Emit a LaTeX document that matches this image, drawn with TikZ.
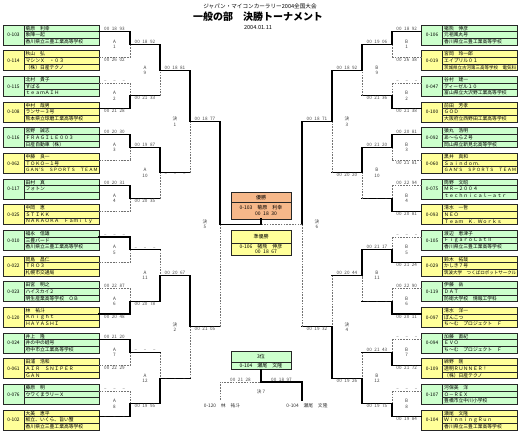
\documentclass[tikz,border=0pt]{standalone}
\usepackage{fontspec}
\usepackage{graphicx}
\setmainfont{Noto Sans CJK JP}
\definecolor{eg}{HTML}{CCFFCC}
\definecolor{ey}{HTML}{FFFF99}
\definecolor{eo}{HTML}{F6B88A}
\newsavebox\fitbox
\newcommand\fitw[1]{\sbox\fitbox{#1}\ifdim\wd\fitbox>72pt\resizebox{72pt}{!}{\usebox\fitbox}\else\usebox\fitbox\fi}
\newcommand\tmx[3]{#1\hspace{2.6pt}#2\hspace{2.6pt}#3}
\newcommand\nt{\makebox[21pt][s]{–\hfill–\hfill–}}
\newcounter{mc}
\tikzset{
  win/.style={line width=1.3pt, black, line cap=rect},
  lose/.style={line width=0.45pt, black!55, dash pattern=on 1.6pt off 1.2pt},
  boxline/.style={line width=0.9pt, black!85},
  rowline/.style={line width=0.5pt, black!85},
  tm/.style={font=\fontsize{4.6}{5}\selectfont, text=black!70, inner sep=0.6pt},
  mlab/.style={font=\fontsize{4.6}{5.4}\selectfont, text=black!75, align=center, inner sep=0},
  idtext/.style={font=\fontsize{4.8}{5}\selectfont, inner sep=0},
  nametext/.style={font=\fontsize{4.8}{5}\selectfont, inner sep=0, anchor=west},
  restext/.style={font=\fontsize{5}{5.5}\selectfont, inner sep=0},
}
% #1 x0, #2 k, #3 id, #4-#6 rows, #7 fill, #8 name prefix
\newcommand\entrybox[8]{%
  \pgfmathsetmacro\yc{35+25.667*#2}%
  \pgfmathsetmacro\yt{\yc-10}%
  \pgfmathsetmacro\ya{\yc-3.333}%
  \pgfmathsetmacro\yb{\yc+3.333}%
  \pgfmathsetmacro\yd{\yc+10}%
  \pgfmathsetmacro\xa{#1+21}%
  \pgfmathsetmacro\xb{#1+96}%
  \pgfmathsetmacro\xi{#1+10.5}%
  \pgfmathsetmacro\xt{#1+22.5}%
  \fill[#7] (#1,\yt) rectangle (\xb,\yd);
  \draw[rowline] (\xa,\ya) -- (\xb,\ya) (\xa,\yb) -- (\xb,\yb) (\xa,\yt) -- (\xa,\yd);
  \draw[boxline] (#1,\yt) rectangle (\xb,\yd);
  \node[idtext] (#8id) at (\xi,\yc) {#3};
  \node[nametext] (#8a) at (\xt,{\yc-6.667}) {\fitw{#4}};
  \node[nametext] (#8b) at (\xt,\yc) {\fitw{#5}};
  \node[nametext] (#8c) at (\xt,{\yc+6.667}) {\fitw{#6}};
}
% #1 xprev #2 xcur #3 ytop #4 ybot #5 winner(0 top/1 bottom) #6 time top #7 time bottom #8 label #9 first round
\newcommand\mtch[9]{%
  \stepcounter{mc}%
  \edef\mn{m\arabic{mc}}%
  \pgfmathsetmacro\ym{(#3+#4)/2}%
  \pgfmathsetmacro\xm{(#1+#2)/2}%
  \coordinate (\mn a) at (#1,#3);
  \coordinate (\mn b) at (#2,#3);
  \coordinate (\mn c) at (#2,\ym);
  \coordinate (\mn d) at (#2,#4);
  \coordinate (\mn e) at (#1,#4);
  \ifnum#5=0 \tikzset{tsty/.style={win},bsty/.style={lose}}\else\tikzset{tsty/.style={lose},bsty/.style={win}}\fi
  \ifnum#9=1 \tikzset{htsty/.style={tsty},hbsty/.style={bsty}}\else\tikzset{htsty/.style={win},hbsty/.style={win}}\fi
  \ifnum#5=0
    \draw[hbsty] (\mn e) -- (\mn d); \draw[bsty] (\mn d) -- (\mn c);
    \draw[htsty] (\mn a) -- (\mn b); \draw[tsty] (\mn b) -- (\mn c);
  \else
    \draw[htsty] (\mn a) -- (\mn b); \draw[tsty] (\mn b) -- (\mn c);
    \draw[hbsty] (\mn e) -- (\mn d); \draw[bsty] (\mn d) -- (\mn c);
  \fi
  \node[tm, anchor=south] (\mn tt) at (\xm,#3) {#6};
  \node[tm, anchor=north] (\mn tb) at (\xm,#4) {#7};
  \node[mlab] (\mn lb) at (\xm,\ym) {#8};
}
\begin{document}
\begin{tikzpicture}[x=1pt,y=-1pt]
\useasboundingbox (0,0) rectangle (520,432);
\fill[white] (0,0) rectangle (520,432);

% title
\node[font=\fontsize{5.6}{6}\selectfont] (sub) at (260,6) {ジャパン・マイコンカーラリー2004全国大会};
\node[font=\fontsize{10}{11}\selectfont\bfseries] (ttl) at (258,16.5) {一般の部　決勝トーナメント};
\node[font=\fontsize{5.6}{6}\selectfont] (dt) at (258,27.5) {2004.01.11};

% left entries
\entrybox{3}{0}{0-103}{菊原　利幸}{象陣一起}{香川県立三豊工業高等学校}{eg}{L0}
\entrybox{3}{1}{0-114}{秋山　弘}{マシンＸ　・０３}{（株）日産テクノ}{ey}{L1}
\entrybox{3}{2}{0-115}{北村　貴子}{すばる}{ｔｅａｍＡＩＨ}{eg}{L2}
\entrybox{3}{3}{0-108}{中村　哉男}{ランサー３号}{熊本県立球磨工業高等学校}{ey}{L3}
\entrybox{3}{4}{0-116}{宮野　誠志}{ＦＲＡＧＩＬＥ００３}{日産自動車（株）}{eg}{L4}
\entrybox{3}{5}{0-062}{中藤　良一}{ＴＯＫＯ－１号}{ＧＡＮ’Ｓ　ＳＰＯＲＴＳ　ＴＥＡＭ}{ey}{L5}
\entrybox{3}{6}{0-117}{田村　真}{フォトン}{}{eg}{L6}
\entrybox{3}{7}{0-025}{中岡　恵}{ＳＴＩＫＫ}{ＮＡＫＡＯＫＡ　Ｆａｍｉｌｙ}{ey}{L7}
\entrybox{3}{8}{0-010}{福永　信雄}{三豊バード}{香川県立三豊工業高等学校}{eg}{L8}
\entrybox{3}{9}{0-022}{岡島　昌仁}{ＴＲＯ３}{札幌市交通局}{ey}{L9}
\entrybox{3}{10}{0-023}{田宮　明之}{ハイスカイ２}{明生産業高等学校　ＯＢ}{eg}{L10}
\entrybox{3}{11}{0-120}{林　祐斗}{Ｋｎｉｇｈｔ}{ＨＡＹＡＳＨＩ}{ey}{L11}
\entrybox{3}{12}{0-024}{井上　隆}{井の中の蛙号}{府中市立工業高等学校}{eg}{L12}
\entrybox{3}{13}{0-061}{田浦　浩和}{ＡＩＲ　ＳＮＩＰＥＲ}{ＧＡＮ}{ey}{L13}
\entrybox{3}{14}{0-076}{藤原　明}{ウワくまラリーＸ}{}{eg}{L14}
\entrybox{3}{15}{0-102}{大美　恵平}{板立、いくら、旨い蟹}{香川県立三豊工業高等学校}{ey}{L15}

% right entries
\entrybox{421.5}{0}{0-106}{猪熊　伸彦}{元祖風丸号}{香川県立三豊工業高等学校}{eg}{R0}
\entrybox{421.5}{1}{0-019}{宮岡　玲一郎}{エイプリル０１}{茨城県立古河第三高等学校　電気科}{ey}{R1}
\entrybox{421.5}{2}{0-047}{谷村　建一}{ディーゼル１０}{富山県立大沢野工業高等学校}{eg}{R2}
\entrybox{421.5}{3}{0-100}{前田　芳孝}{ＧＯＤ}{大阪府立西野田工業高等学校}{ey}{R3}
\entrybox{421.5}{4}{0-092}{猿丸　浩明}{あ～ららＺ号}{岡山県立新見北高等学校}{eg}{R4}
\entrybox{421.5}{5}{0-060}{黒井　真和}{Ｓａｉｎｄｏｍ．}{ＧＡＮ’Ｓ　ＳＰＯＲＴＳ　ＴＥＡＭ}{ey}{R5}
\entrybox{421.5}{6}{0-075}{筒野　文昭}{ＭＲ－２００４}{ｔｅｃｈｎｉｃａｌ－ａｔｒ}{eg}{R6}
\entrybox{421.5}{7}{0-093}{清水　一哲}{ＮＥＯ}{Ｔｅａｍ　Ｋ．Ｗｏｒｋｓ}{ey}{R7}
\entrybox{421.5}{8}{0-105}{渡辺　恵津子}{ＦｉｇａｒｏＣａｔⅡ}{香川県立三豊工業高等学校}{eg}{R8}
\entrybox{421.5}{9}{0-029}{鈴木　拓哉}{かしき７号}{筑波大学　つくばロボットサークル}{ey}{R9}
\entrybox{421.5}{10}{0-119}{伊藤　岳}{ＤＡＴ}{防衛大学校　情報工学科}{eg}{R10}
\entrybox{421.5}{11}{0-097}{清水　洋一}{ぽんこつ}{ち～む　プロジェクト　Ｆ}{ey}{R11}
\entrybox{421.5}{12}{0-094}{加藤　直紀}{ＥＶＯ}{ち～む　プロジェクト　Ｆ}{eg}{R12}
\entrybox{421.5}{13}{0-109}{綿野　剛}{透明ＲＵＮＮＥＲ！}{（株）日産テクノ}{ey}{R13}
\entrybox{421.5}{14}{0-107}{河保美　洋}{Ｏ－ＲＥＸ}{豊橋市立中川小学校}{eg}{R14}
\entrybox{421.5}{15}{0-104}{瀬尾　文隆}{ＷｉｎｎｉｎｇＲｕｎ}{香川県立三豊工業高等学校}{ey}{R15}

% left bracket, round 1
\mtch{99}{130}{31.67}{57.33}{0}{\tmx{00}{18}{93}}{\tmx{00}{26}{02}}{A\\1}{1}
\mtch{99}{130}{83.00}{108.67}{1}{\nt}{\tmx{00}{21}{28}}{A\\2}{1}
\mtch{99}{130}{134.33}{160.00}{0}{\tmx{00}{20}{30}}{\nt}{A\\3}{1}
\mtch{99}{130}{185.67}{211.33}{0}{\tmx{00}{20}{31}}{\nt}{A\\4}{1}
\mtch{99}{130}{237.00}{262.67}{0}{\nt}{\nt}{A\\5}{1}
\mtch{99}{130}{288.33}{314.00}{1}{\tmx{00}{22}{87}}{\tmx{00}{20}{48}}{A\\6}{1}
\mtch{99}{130}{339.67}{365.33}{0}{\tmx{00}{21}{20}}{\tmx{00}{22}{29}}{A\\7}{1}
\mtch{99}{130}{391.00}{416.67}{1}{\nt}{\nt}{A\\8}{1}
% round 2
\mtch{130}{160}{44.50}{95.83}{0}{\tmx{00}{18}{92}}{\tmx{00}{21}{33}}{A\\9}{0}
\mtch{130}{160}{147.17}{198.50}{0}{\tmx{00}{19}{87}}{\tmx{00}{20}{35}}{A\\10}{0}
\mtch{130}{160}{249.83}{301.17}{1}{\nt}{\tmx{00}{20}{78}}{A\\11}{0}
\mtch{130}{160}{352.50}{403.83}{1}{\nt}{\tmx{00}{19}{95}}{A\\12}{0}
% round 3
\mtch{160}{190}{70.17}{172.83}{0}{\tmx{00}{18}{81}}{\nt}{決\\1}{0}
\mtch{160}{190}{275.50}{378.17}{0}{\tmx{00}{20}{67}}{\nt}{決\\2}{0}
% round 4
\mtch{190}{220}{121.50}{326.83}{0}{\tmx{00}{18}{77}}{\tmx{00}{21}{05}}{決\\5}{0}

% right bracket, round 1
\mtch{421.5}{392}{31.67}{57.33}{0}{\tmx{00}{18}{92}}{\tmx{00}{26}{38}}{B\\1}{1}
\mtch{421.5}{392}{83.00}{108.67}{1}{\nt}{\tmx{00}{21}{38}}{B\\2}{1}
\mtch{421.5}{392}{134.33}{160.00}{0}{\tmx{00}{20}{81}}{\tmx{00}{21}{81}}{B\\3}{1}
\mtch{421.5}{392}{185.67}{211.33}{1}{\tmx{00}{22}{94}}{\tmx{00}{20}{81}}{B\\4}{1}
\mtch{421.5}{392}{237.00}{262.67}{1}{\nt}{\tmx{00}{21}{24}}{B\\5}{1}
\mtch{421.5}{392}{288.33}{314.00}{1}{\tmx{00}{22}{90}}{\tmx{00}{20}{11}}{B\\6}{1}
\mtch{421.5}{392}{339.67}{365.33}{1}{\nt}{\tmx{00}{21}{72}}{B\\7}{1}
\mtch{421.5}{392}{391.00}{416.67}{1}{\nt}{\tmx{00}{19}{84}}{B\\8}{1}
% round 2
\mtch{392}{362}{44.50}{95.83}{0}{\tmx{00}{19}{06}}{\tmx{00}{21}{36}}{B\\9}{0}
\mtch{392}{362}{147.17}{198.50}{0}{\tmx{00}{21}{20}}{\nt}{B\\10}{0}
\mtch{392}{362}{249.83}{301.17}{0}{\tmx{00}{21}{17}}{\nt}{B\\11}{0}
\mtch{392}{362}{352.50}{403.83}{1}{\tmx{00}{21}{43}}{\tmx{00}{19}{75}}{B\\12}{0}
% round 3
\mtch{362}{332}{70.17}{172.83}{0}{\tmx{00}{18}{92}}{\tmx{00}{20}{20}}{決\\3}{0}
\mtch{362}{332}{275.50}{378.17}{1}{\tmx{00}{20}{44}}{\tmx{00}{19}{26}}{決\\4}{0}
% round 4
\mtch{332}{302}{121.50}{326.83}{0}{\tmx{00}{18}{71}}{\tmx{00}{19}{32}}{決\\6}{0}

% result boxes
\fill[eo] (231,192) rectangle (291,219);
\draw[rowline] (231,202.5) -- (291,202.5);
\draw[boxline] (231,192) rectangle (291,219);
\node[restext] (champ) at (261,197.3) {優勝};
\node[restext] (champn) at (261,207.3) {0-103　菊原　利幸};
\node[restext] (champt) at (266,214) {\tmx{00}{18}{30}};
\coordinate (champb) at (261,219);

\fill[ey] (231,230) rectangle (291,255.5);
\draw[rowline] (231,243) -- (291,243);
\draw[boxline] (231,230) rectangle (291,255.5);
\node[restext] (second) at (261,236.5) {準優勝};
\node[restext] (secondn) at (261,246.5) {0-106　猪熊　伸彦};
\node[restext] (secondt) at (266,252) {\tmx{00}{18}{67}};

\fill[eg] (231,351) rectangle (291,369.5);
\draw[rowline] (231,362) -- (291,362);
\draw[boxline] (231,351) rectangle (291,369.5);
\node[restext] (third) at (261,356.5) {3位};
\node[restext] (thirdn) at (261,365.8) {0-104　瀬尾　文隆};
\coordinate (thirdb) at (261,369.5);

% final
\coordinate (fl) at (220,224.17);
\coordinate (fr) at (302,224.17);
\coordinate (fm) at (261,224.17);
\draw[lose] (fr) -- (fm);
\draw[win] (fl) -- (fm) -- (champb);

% third place match
\coordinate (tl) at (220,382);
\coordinate (tr) at (302,382);
\coordinate (tm) at (261,382);
\coordinate (tlb) at (220,400);
\coordinate (trb) at (302,400);
\draw[lose] (tlb) -- (tl) -- (tm);
\draw[win] (trb) -- (tr) -- (tm) -- (thirdb);
\node[tm, anchor=south] (t7l) at (240.5,382) {\tmx{00}{21}{28}};
\node[tm, anchor=south] (t7r) at (281.5,382) {\tmx{00}{18}{97}};
\node[mlab] (k7) at (261,392) {決 7};
\node[restext, font=\fontsize{4.8}{5}\selectfont, text=black!80] (p7l) at (222,405.5) {0-120　林　祐斗};
\node[restext, font=\fontsize{4.8}{5}\selectfont, text=black!80] (p7r) at (307,405.5) {0-104　瀬尾　文隆};
\end{tikzpicture}
\end{document}
